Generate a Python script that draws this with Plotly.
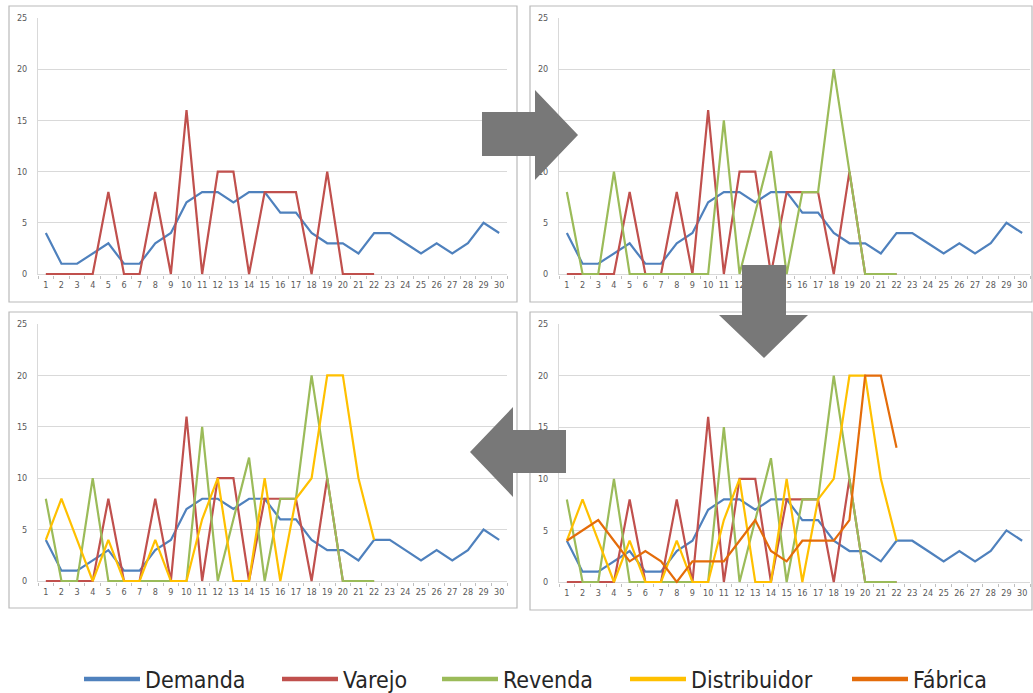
import plotly.graph_objects as go

W, H = 1033, 693

dias = list(range(1, 31))
dias_sim = list(range(1, 23))
demanda = [4, 1, 1, 2, 3, 1, 1, 3, 4, 7, 8, 8, 7, 8, 8, 6, 6, 4, 3, 3, 2, 4, 4, 3, 2, 3, 2, 3, 5, 4]
varejo = [0, 0, 0, 0, 8, 0, 0, 8, 0, 16, 0, 10, 10, 0, 8, 8, 8, 0, 10, 0, 0, 0]
revenda = [8, 0, 0, 10, 0, 0, 0, 0, 0, 0, 15, 0, 6, 12, 0, 8, 8, 20, 10, 0, 0, 0]
distribuidor = [4, 8, 4, 0, 4, 0, 0, 4, 0, 0, 6, 10, 0, 0, 10, 0, 8, 10, 20, 20, 10, 4]
fabrica = [4, 5, 6, 4, 2, 3, 2, 0, 2, 2, 2, 4, 6, 3, 2, 4, 4, 4, 6, 20, 20, 13]

nomes = ["Demanda", "Varejo", "Revenda", "Distribuidor", "Fábrica"]
cores = ["#4F81BD", "#C0504D", "#9BBB59", "#FFC000", "#E46C0A"]
series = [(dias, demanda), (dias_sim, varejo), (dias_sim, revenda),
          (dias_sim, distribuidor), (dias_sim, fabrica)]
y_ticks = [0, 5, 10, 15, 20, 25]

def px(x):
    return x / W

def py(y):
    return 1 - y / H

# panel plot areas in pixels: (x0, x1, ytop, ybottom of value 0)
areas = [(38, 507, 18, 274), (559, 1030, 18, 274),
         (38, 507, 324, 581), (559, 1030, 324, 582)]
# number of series shown in each panel
n_series = [2, 3, 4, 5]
pad = 0.14  # small room below zero so lines at 0 are not clipped

fig = go.Figure()
tick_font = dict(family="DejaVu Sans Condensed, Liberation Sans Narrow, sans-serif", size=9, color="#595959")

for i, (area, n) in enumerate(zip(areas, n_series)):
    sfx = "" if i == 0 else str(i + 1)
    for k in range(n):
        xs, ys = series[k]
        fig.add_trace(go.Scatter(x=xs, y=ys, mode="lines", name=nomes[k],
                                 line=dict(color=cores[k], width=2.2),
                                 xaxis="x" + sfx, yaxis="y" + sfx,
                                 showlegend=False, hoverinfo="x+y+name"))
    x0, x1, yt, yb = area
    extra = pad * (yb - yt) / 25.0
    fig.update_layout(**{
        "xaxis" + sfx: dict(domain=[px(x0), px(x1)], anchor="y" + sfx, range=[0.5, 30.5],
                            tickmode="array", tickvals=dias, ticktext=[str(d) for d in dias],
                            showgrid=False, zeroline=False, showline=False,
                            ticks="", tickfont=tick_font, ticklabelstandoff=3,
                            layer="below traces",
                            minor=dict(tickmode="linear", tick0=0.5, dtick=1, ticks="outside",
                                       ticklen=3, tickcolor="#BFBFBF", showgrid=False),
                            fixedrange=True),
        "yaxis" + sfx: dict(domain=[py(yb + extra), py(yt)], anchor="x" + sfx, range=[-pad, 25],
                            tickmode="array", tickvals=y_ticks,
                            showgrid=True, gridcolor="#D9D9D9", gridwidth=1.3, zeroline=False,
                            showline=True, linecolor="#D9D9D9", ticks="", tickfont=tick_font,
                            ticklabelstandoff=8, layer="below traces", fixedrange=True),
    })

# legend-only entries
leg_x = [84, 282, 442, 630, 852]
for k in range(5):
    lname = "legend" if k == 0 else "legend" + str(k + 1)
    fig.add_trace(go.Scatter(x=[None], y=[None], mode="lines", name=nomes[k],
                             line=dict(color=cores[k], width=4.5), showlegend=True,
                             legend=lname, xaxis="x", yaxis="y"))
    fig.update_layout(**{lname: dict(x=px(leg_x[k] - 5), xanchor="left", y=py(679), yanchor="middle",
                                     orientation="h", itemwidth=56, bgcolor="rgba(0,0,0,0)",
                                     font=dict(family="DejaVu Sans Condensed, sans-serif", size=23,
                                               color="#262626"),
                                     borderwidth=0, itemclick=False, itemdoubleclick=False)})

shapes = []
# panel borders
for (bx0, by0, bx1, by1) in [(9, 6, 517, 302), (530, 6, 1032, 302), (9, 312, 517, 608), (530, 312, 1032, 610)]:
    shapes.append(dict(type="rect", xref="paper", yref="paper", x0=px(bx0), x1=px(bx1),
                       y0=py(by1), y1=py(by0), line=dict(color="#BABABA", width=1.2),
                       fillcolor="rgba(0,0,0,0)", layer="below"))

def arrow(pts):
    d = "M " + " L ".join(f"{px(a):.5f},{py(b):.5f}" for a, b in pts) + " Z"
    return dict(type="path", xref="paper", yref="paper", path=d,
                fillcolor="#787878", line=dict(width=0), layer="above")

# right arrow
shapes.append(arrow([(482, 112), (535, 112), (535, 90), (578, 135), (535, 180), (535, 156), (482, 156)]))
# down arrow
shapes.append(arrow([(742, 265), (786, 265), (786, 315), (808, 315), (764, 358), (719, 315), (742, 315)]))
# left arrow
shapes.append(arrow([(566, 430), (566, 473), (513, 473), (513, 497), (470, 452), (513, 407), (513, 430)]))

fig.update_layout(width=W, height=H, margin=dict(l=0, r=0, t=0, b=0, autoexpand=False),
                  paper_bgcolor="white", plot_bgcolor="white", shapes=shapes,
                  hovermode="closest")

fig.write_html("out.html")
